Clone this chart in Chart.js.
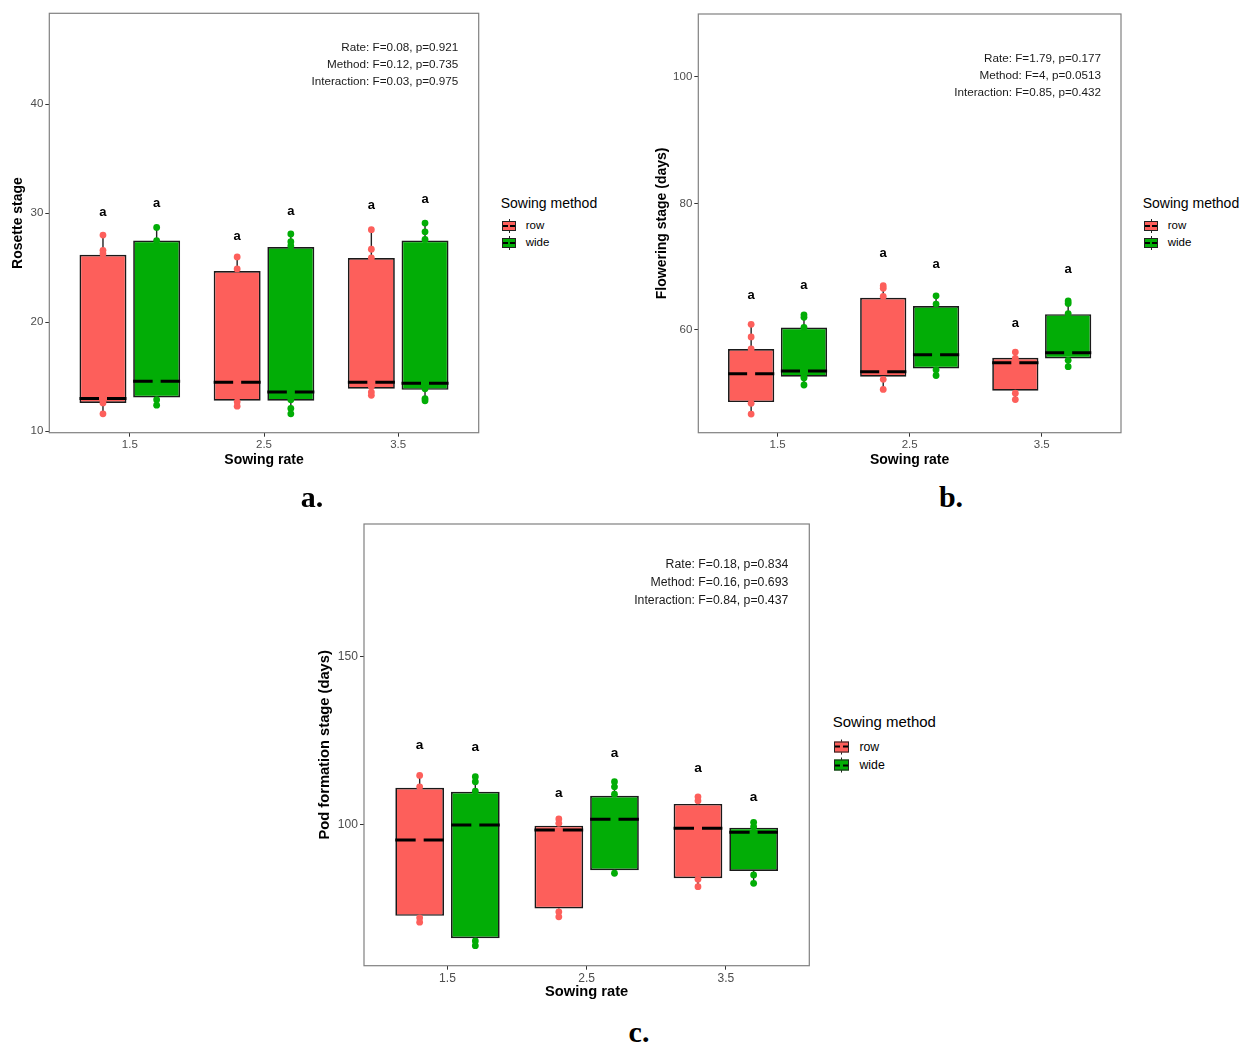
<!DOCTYPE html>
<html>
<head>
<meta charset="utf-8">
<title>Sowing rate x sowing method</title>
<script src="https://cdn.jsdelivr.net/npm/chart.js@4.4.1/dist/chart.umd.min.js"></script>
<style>
  body { margin: 0; background: #fff; width: 1255px; height: 1055px; position: relative; overflow: hidden;
         font-family: 'Liberation Sans', Arial, sans-serif; color: #000; }
  canvas { position: absolute; }
  .txt { position: absolute; white-space: nowrap; transform: translateY(-50%); line-height: 1.15; }
  .tag { position: absolute; font-family: 'Liberation Serif', 'Times New Roman', serif; font-weight: bold;
         font-size: 30px; line-height: 1; transform: translate(-50%, -50%); }
  .key { position: absolute; transform: translateY(-50%); }
  .key i { position: absolute; display: block; }
  .key .wh { left: 50%; width: 1px; margin-left: -0.5px; top: 0; bottom: 0; background: #222; }
  .key .bx { left: 0; right: 0; border: 1px solid #222; box-sizing: border-box; }
  .key .md { left: 1px; right: 1px; top: 50%; height: 2px; margin-top: -1px;
             background: linear-gradient(to right, #000 38%, transparent 38%, transparent 62%, #000 62%); }
</style>
</head>
<body>
<canvas id="chartA" width="490" height="475" style="left:0px;top:0px"></canvas>
<canvas id="chartB" width="491" height="475" style="left:640px;top:0px"></canvas>
<canvas id="chartC" width="520" height="500" style="left:300px;top:510px"></canvas>
<div class="tag" style="left:312px;top:497px">a.</div>
<div class="tag" style="left:951px;top:497px">b.</div>
<div class="tag" style="left:639px;top:1032px">c.</div>

<script>
const rates = ['1.5', '2.5', '3.5'];
const methods = ['row', 'wide'];
const methodColors = ['#fd5f5b', '#02ad06'];

// box summaries per sowing rate: [min, q1, median, q3, max]
// a. rosette stage
const rosetteRow = [[11.6, 12.6, 13.0, 26.2, 28.0], [12.3, 12.8, 14.5, 24.7, 26.0], [13.3, 13.9, 14.5, 25.9, 28.5]];
const rosetteWide = [[12.4, 13.1, 14.6, 27.5, 28.7], [11.6, 12.8, 13.6, 26.9, 28.1], [12.8, 13.8, 14.4, 27.5, 29.1]];
const rosetteRowPts = [[28.0, 26.6, 26.3, 12.9, 12.6, 11.6], [26.0, 24.9, 12.7, 12.3], [28.5, 26.7, 25.9, 14.1, 13.6, 13.3]];
const rosetteWidePts = [[28.7, 27.5, 14.4, 12.9, 12.4], [28.1, 27.4, 27.0, 12.9, 12.1, 11.6], [29.1, 28.3, 27.6, 13.9, 13.0, 12.8]];
const rosetteRowLetterY = [30.1, 27.9, 30.7];
const rosetteWideLetterY = [30.9, 30.2, 31.3];
const rosetteLetters = ['a', 'a', 'a'];
const rosetteTicks = [10, 20, 30, 40];
const rosetteRange = [9.87, 48.35];
const rosetteStats = ['Rate: F=0.08, p=0.921', 'Method: F=0.12, p=0.735', 'Interaction: F=0.03, p=0.975'];

// b. flowering stage
const floweringRow = [[46.7, 48.6, 53.1, 57.0, 60.9], [50.6, 52.6, 53.4, 65.1, 67.0], [49.0, 50.4, 54.8, 55.6, 56.5]];
const floweringWide = [[51.3, 52.6, 53.5, 60.4, 62.4], [52.8, 53.9, 56.1, 63.8, 65.4], [54.2, 55.5, 56.4, 62.5, 64.6]];
const floweringRowPts = [[60.9, 58.9, 57.0, 48.4, 46.7], [67.0, 66.6, 65.3, 52.2, 50.6], [56.5, 55.5, 50.0, 49.0]];
const floweringWidePts = [[62.4, 62.0, 60.4, 52.6, 52.4, 51.3], [65.4, 64.1, 53.7, 52.8], [64.6, 64.2, 62.6, 55.2, 54.2]];
const floweringRowLetterY = [65.5, 72.1, 61.0];
const floweringWideLetterY = [67.0, 70.4, 69.6];
const floweringLetters = ['a', 'a', 'a'];
const floweringTicks = [60, 80, 100];
const floweringRange = [43.76, 109.96];
const floweringStats = ['Rate: F=1.79, p=0.177', 'Method: F=4, p=0.0513', 'Interaction: F=0.85, p=0.432'];

// c. pod formation stage
const podRow = [[70.8, 72.7, 95.3, 110.9, 114.6], [72.4, 74.9, 98.3, 99.6, 101.6], [81.4, 83.9, 98.8, 106.1, 108.2]];
const podWide = [[63.8, 66.0, 99.8, 109.7, 114.2], [85.4, 86.3, 101.5, 108.5, 112.7], [82.4, 86.1, 97.6, 99.0, 100.6]];
const podRowPts = [[114.6, 111.2, 72.1, 70.8], [101.6, 100.3, 73.9, 72.4], [108.2, 107.0, 83.6, 81.4]];
const podWidePts = [[114.2, 112.7, 109.9, 65.2, 63.8], [112.7, 111.2, 109.0, 85.4], [100.6, 99.3, 84.9, 82.4]];
const podRowLetterY = [123.7, 109.4, 116.7];
const podWideLetterY = [123.0, 121.2, 108.2];
const podLetters = ['a', 'a', 'a'];
const podTicks = [100, 150];
const podRange = [57.82, 189.6];
const podStats = ['Rate: F=0.18, p=0.834', 'Method: F=0.16, p=0.693', 'Interaction: F=0.84, p=0.437'];

const DODGE = 0.2;   // half of dodge width
const HALF = 0.175;  // half box width

Chart.defaults.font.family = "'Liberation Sans', Arial, sans-serif";

// frame, significance letters and the anova text
const boxText = {
  id: 'boxText',
  afterDraw(chart, args, o) {
    const {ctx, chartArea: a, scales: {x, y}} = chart;
    ctx.save();
    ctx.strokeStyle = '#808080';
    ctx.lineWidth = 1.2;
    ctx.strokeRect(a.left, a.top, a.right - a.left, a.bottom - a.top);
    ctx.fillStyle = '#000';
    ctx.textAlign = 'center';
    ctx.textBaseline = 'middle';
    ctx.font = 'bold ' + o.letterSize + 'px ' + Chart.defaults.font.family;
    o.letters.forEach((g, k) => {
      const shift = (k === 0 ? -1 : 1) * DODGE;
      g.y.forEach((v, i) => ctx.fillText(g.text[i], x.getPixelForValue(i + 1 + shift), y.getPixelForValue(v)));
    });
    ctx.textAlign = 'right';
    ctx.fillStyle = '#1a1a1a';
    ctx.font = o.statSize + 'px ' + Chart.defaults.font.family;
    o.stats.forEach((s, i) => ctx.fillText(s, a.right - o.statInset, a.top + o.statTop + i * o.statGap));
    ctx.restore();
  }
};

function boxDatasets(groups) {
  const sets = [];
  groups.forEach((g, k) => {
    const shift = (k === 0 ? -1 : 1) * DODGE;
    const cx = i => i + 1 + shift;
    sets.push({
      type: 'bar', label: methods[k],
      data: g.box.map((b, i) => ({x: cx(i), y: [b[1], b[3]]})),
      backgroundColor: methodColors[k], borderColor: '#1a1a1a', borderWidth: 1.7,
      borderSkipped: false, grouped: false, categoryPercentage: 1, barPercentage: 0.875, order: 2
    });
    sets.push({
      type: 'line', label: methods[k] + ' whiskers',
      data: g.box.flatMap((b, i) => [
        {x: cx(i), y: b[3]}, {x: cx(i), y: b[4]}, {x: cx(i), y: null},
        {x: cx(i), y: b[1]}, {x: cx(i), y: b[0]}, {x: cx(i), y: null}
      ]),
      borderColor: '#222', borderWidth: 1.4, pointRadius: 0, spanGaps: false, order: 3
    });
    sets.push({
      type: 'line', label: methods[k] + ' median',
      data: g.box.flatMap((b, i) => [{x: cx(i) - HALF, y: b[2]}, {x: cx(i) + HALF, y: b[2]}, {x: cx(i), y: null}]),
      borderColor: '#000', borderWidth: 3, borderCapStyle: 'butt', pointRadius: 0, spanGaps: false, order: 1,
      borderDash: ctx => {
        const sx = ctx.chart.scales.x;
        const w = Math.abs(sx.getPixelForValue(2 * HALF) - sx.getPixelForValue(0));
        return [(w - 8) / 2, 8];
      }
    });
    sets.push({
      type: 'scatter', label: methods[k] + ' points',
      data: g.pts.flatMap((arr, i) => arr.map(v => ({x: cx(i), y: v}))),
      backgroundColor: methodColors[k], borderWidth: 0, pointRadius: 3.4, order: 0
    });
  });
  return sets;
}

function boxChart(id, c) {
  const f = c.scale;
  const tickGrid = {display: true, drawOnChartArea: false, drawTicks: true, tickLength: 4,
                    tickColor: '#333', color: '#333', offset: false};
  return new Chart(document.getElementById(id), {
    type: 'bar',
    data: {datasets: boxDatasets(c.groups)},
    plugins: [boxText],
    options: {
      responsive: false, animation: false, events: [],
      layout: {padding: c.pad},
      plugins: {
        legend: {display: false}, tooltip: {enabled: false},
        boxText: {letters: c.letters, stats: c.stats, letterSize: 13 * f, statSize: 11.7 * f,
                  statInset: c.statInset, statTop: c.statTop, statGap: c.statGap}
      },
      scales: {
        x: {
          type: 'linear', min: 0.4, max: 3.6, offset: false,
          afterBuildTicks: s => { s.ticks = rates.map((r, i) => ({value: i + 1})); },
          afterFit: s => { s.height = c.xh; },
          grid: tickGrid, border: {display: false},
          ticks: {autoSkip: false, maxRotation: 0, padding: c.xtickPad, color: '#4d4d4d',
                  font: {size: 11.5 * f}, callback: (v, i) => rates[i]},
          title: {display: true, text: 'Sowing rate', color: '#000',
                  font: {size: 14 * f, weight: 'bold'}, padding: {top: 0, bottom: c.xtp}}
        },
        y: {
          type: 'linear', min: c.range[0], max: c.range[1], beginAtZero: false,
          afterBuildTicks: s => { s.ticks = c.ticks.map(v => ({value: v})); },
          afterFit: s => { s.width = c.yw; },
          grid: tickGrid, border: {display: false},
          ticks: {padding: 2, color: '#4d4d4d', font: {size: 11.5 * f}, callback: v => String(v)},
          title: {display: true, text: c.ytitle, color: '#000',
                  font: {size: 14 * f, weight: 'bold'}, padding: {top: c.ytp, bottom: 0}}
        }
      }
    }
  });
}

function legendAt(left, cy, s) {
  const title = document.createElement('div');
  title.className = 'txt';
  title.style.cssText = `left:${left}px;top:${cy}px;font-size:${14 * s}px`;
  title.textContent = 'Sowing method';
  document.body.appendChild(title);
  methods.forEach((m, k) => {
    const rowY = cy + (23 + 17 * k) * s;
    const key = document.createElement('div');
    key.className = 'key';
    key.style.cssText = `left:${left + 1.3 * s}px;top:${rowY}px;width:${14 * s}px;height:${14 * s}px`;
    key.innerHTML = `<i class="wh"></i><i class="bx" style="background:${methodColors[k]};top:${2 * s}px;bottom:${2 * s}px"></i><i class="md"></i>`;
    document.body.appendChild(key);
    const lab = document.createElement('div');
    lab.className = 'txt';
    lab.style.cssText = `left:${left + 25 * s}px;top:${rowY}px;font-size:${11.5 * s}px`;
    lab.textContent = m;
    document.body.appendChild(lab);
  });
}

boxChart('chartA', {
  scale: 1, ytitle: 'Rosette stage', range: rosetteRange, ticks: rosetteTicks, stats: rosetteStats,
  groups: [{box: rosetteRow, pts: rosetteRowPts}, {box: rosetteWide, pts: rosetteWidePts}],
  letters: [{y: rosetteRowLetterY, text: rosetteLetters}, {y: rosetteWideLetterY, text: rosetteLetters}],
  pad: {left: 0, top: 13.3, right: 11.3, bottom: 0}, yw: 49.3, xh: 42.3, ytp: 9.9, xtp: 6.6, xtickPad: 1,
  statInset: 20.4, statTop: 34, statGap: 17.2
});

boxChart('chartB', {
  scale: 1, ytitle: 'Flowering stage (days)', range: floweringRange, ticks: floweringTicks, stats: floweringStats,
  groups: [{box: floweringRow, pts: floweringRowPts}, {box: floweringWide, pts: floweringWidePts}],
  letters: [{y: floweringRowLetterY, text: floweringLetters}, {y: floweringWideLetterY, text: floweringLetters}],
  pad: {left: 0, top: 14, right: 10, bottom: 0}, yw: 58.3, xh: 42.3, ytp: 13.3, xtp: 6.6, xtickPad: 1,
  statInset: 20, statTop: 44.3, statGap: 17
});

boxChart('chartC', {
  scale: 1.05, ytitle: 'Pod formation stage (days)', range: podRange, ticks: podTicks, stats: podStats,
  groups: [{box: podRow, pts: podRowPts}, {box: podWide, pts: podWidePts}],
  letters: [{y: podRowLetterY, text: podLetters}, {y: podWideLetterY, text: podLetters}],
  pad: {left: 0, top: 14, right: 10.7, bottom: 0}, yw: 64, xh: 44.3, ytp: 16, xtp: 9, xtickPad: 1.5,
  statInset: 21, statTop: 41, statGap: 17.8
});

legendAt(500.7, 202.7, 1);
legendAt(1142.7, 202.7, 1);
legendAt(832.7, 722.3, 1.07);
</script>
</body>
</html>
